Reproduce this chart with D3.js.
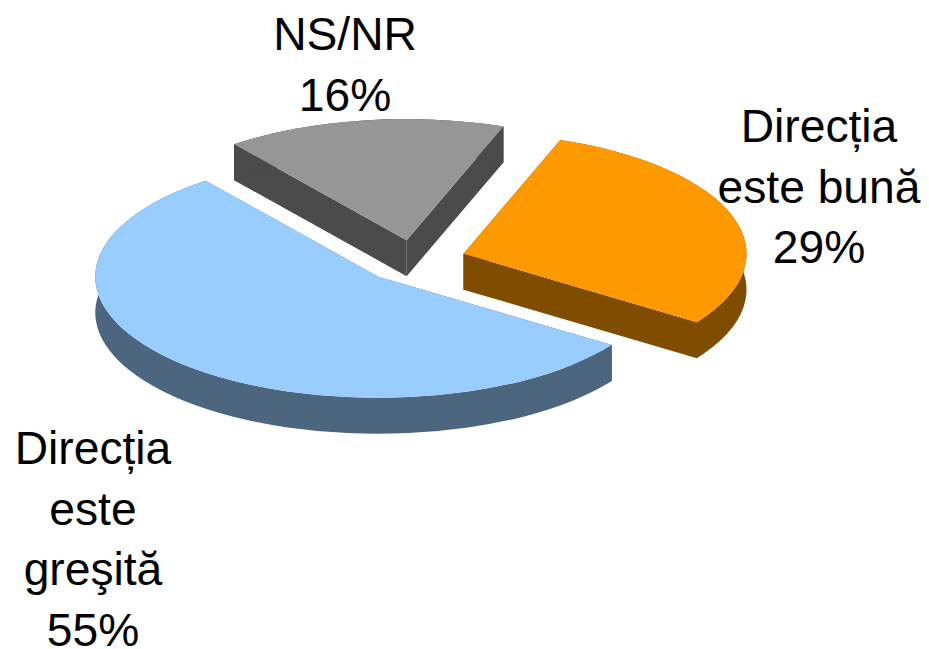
<!DOCTYPE html>
<html><head><meta charset="utf-8">
<script src="https://cdn.jsdelivr.net/npm/d3@7"></script>
<style>html,body{margin:0;padding:0;background:#fff}svg{display:block}</style>
</head><body><div id="c"></div>
<script>
const categories = ["Direcția este bună", "Direcția este greşită", "NS/NR"];
const values = [29, 55, 16];
const labelLines = [["Direcția", "este bună", "29%"], ["Direcția", "este", "greşită", "55%"], ["NS/NR", "16%"]];
const topColors = ["#FF9900", "#99CCFF", "#969696"];
const sideColors = ["#804D00", "#4D6680", "#4B4B4B"];
const labelCenters = [[819, 142], [93, 464], [345, 50]];
const explodes = [52, 52, 48];

const W = 929, H = 649, cx = 414, cy = 260.5, R = 283, tilt = 0.428, depth = 36, lineH = 60.5;
const rad = Math.PI / 180;
const svg = d3.select("#c").append("svg").attr("width", W).attr("height", H);

const arcs = d3.pie().sort(null).value(d => d).startAngle(20 * rad).endAngle(380 * rad)(values);
const topArc = d3.arc().innerRadius(0).outerRadius(R);
const px = (o, a, r) => [o[0] + Math.sin(a) * r, o[1] - Math.cos(a) * r * tilt];

const order = [2, 1, 0];
order.forEach(i => {
  const a = arcs[i], mid = (a.startAngle + a.endAngle) / 2;
  const o = px([cx, cy], mid, explodes[i]);
  const g = svg.append("g");
  const p0 = px(o, a.startAngle, R), p1 = px(o, a.endAngle, R);
  const large = a.endAngle - a.startAngle > Math.PI ? 1 : 0;
  const wall = (u, v) => `M${u}L${v}L${v[0]},${v[1] + depth}L${u[0]},${u[1] + depth}Z`;
  g.append("path").attr("fill", sideColors[i]).attr("d", wall(o, p0));
  g.append("path").attr("fill", sideColors[i]).attr("d", wall(o, p1));
  g.append("path").attr("fill", sideColors[i]).attr("d",
    `M${p0}A${R},${R * tilt} 0 ${large} 1 ${p1}L${p1[0]},${p1[1] + depth}A${R},${R * tilt} 0 ${large} 0 ${p0[0]},${p0[1] + depth}Z`);
  g.append("path").attr("fill", topColors[i])
    .attr("transform", `translate(${o[0]},${o[1]}) scale(1,${tilt})`)
    .attr("d", topArc(a));
});

labelLines.forEach((lines, i) => {
  const t = svg.append("text").attr("text-anchor", "middle")
    .attr("font-family", "'Liberation Sans',Arial,sans-serif").attr("font-size", 46.2).attr("fill", "#000");
  lines.forEach((s, j) => t.append("tspan").attr("x", labelCenters[i][0]).attr("y", labelCenters[i][1] + j * lineH).text(s));
});
</script></body></html>
